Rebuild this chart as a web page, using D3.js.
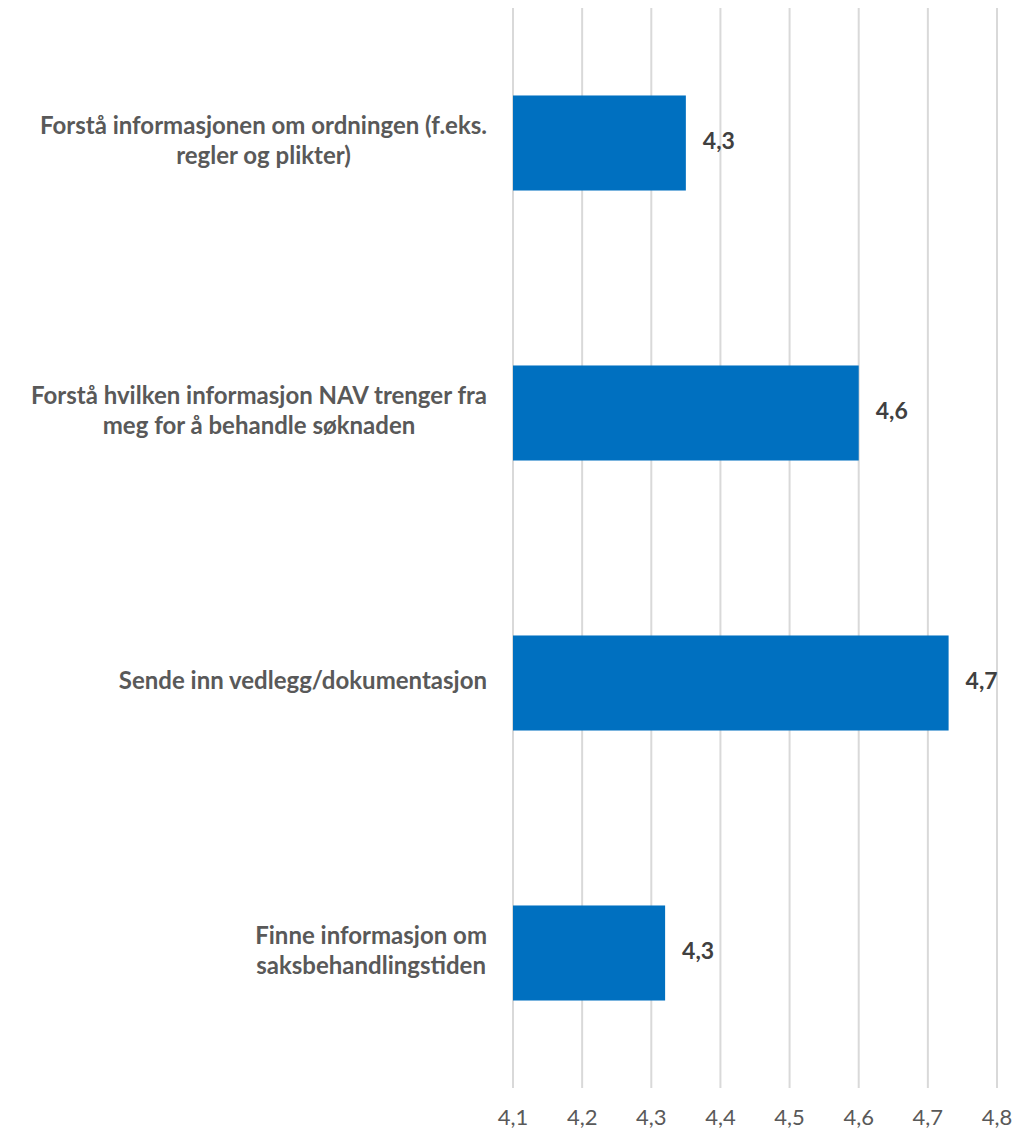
<!doctype html>
<html>
<head>
<meta charset="utf-8">
<title>Bar chart</title>
<script src="https://cdn.jsdelivr.net/npm/d3@7"></script>
<style>
	body { margin: 0; background: #fff; }
	svg text { font-family: Lato, "Open Sans", "Liberation Sans", sans-serif; }
</style>
</head>
<body>
<svg id="chart" width="1017" height="1133"></svg>
<script>
// categories, top to bottom (line breaks as in the original)
var categories = [
	"Forstå informasjonen om ordningen (f.eks.\nregler og plikter)",
	"Forstå hvilken informasjon NAV trenger fra\nmeg for å behandle søknaden",
	"Sende inn vedlegg/dokumentasjon",
	"Finne informasjon om\nsaksbehandlingstiden"
];
var values = [4.35, 4.60, 4.73, 4.32];
var valueLabels = ["4,3", "4,6", "4,7", "4,3"];
var ticks = [4.1, 4.2, 4.3, 4.4, 4.5, 4.6, 4.7, 4.8];

var svg = d3.select("#chart");

var x = d3.scaleLinear()
	.domain([4.1, 4.8])
	.range([513, 997]);

var y = d3.scaleBand()
	.domain(categories)
	.range([8, 1088])
	.paddingInner(0.648)
	.paddingOuter(0.324);

// gridlines
svg.append("g").selectAll("line")
	.data(ticks)
	.join("line")
	.attr("x1", function(d) { return x(d); })
	.attr("x2", function(d) { return x(d); })
	.attr("y1", 8)
	.attr("y2", 1088)
	.attr("stroke", "#d9d9d9")
	.attr("stroke-width", 2);

// tick labels
svg.append("g").selectAll("text")
	.data(ticks)
	.join("text")
	.attr("x", function(d) { return x(d); })
	.attr("y", 1119)
	.attr("text-anchor", "middle")
	.attr("dominant-baseline", "middle")
	.attr("fill", "#595959")
	.attr("font-size", 22)
	.text(function(d) { return d3.format(".1f")(d).replace(".", ","); });

// bars
svg.append("g").selectAll("rect")
	.data(values)
	.join("rect")
	.attr("x", x(4.1))
	.attr("y", function(d, i) { return y(categories[i]); })
	.attr("width", function(d) { return x(d) - x(4.1); })
	.attr("height", y.bandwidth())
	.attr("fill", "#0070c0");

// value labels
svg.append("g").selectAll("text")
	.data(values)
	.join("text")
	.attr("x", function(d) { return x(d) + 17; })
	.attr("y", function(d, i) { return y(categories[i]) + y.bandwidth() / 2; })
	.attr("dominant-baseline", "middle")
	.attr("fill", "#404040")
	.attr("font-size", 23)
	.attr("font-weight", "bold")
	.text(function(d, i) { return valueLabels[i]; });

// category labels: lines centred within a block that is right-aligned
var labelRight = 487, lineH = 30;
categories.forEach(function(c) {
	var lines = c.split("\n");
	var cy = y(c) + y.bandwidth() / 2;
	var g = svg.append("g");
	var texts = g.selectAll("text")
		.data(lines)
		.join("text")
		.attr("y", function(d, i) { return cy + (i - (lines.length - 1) / 2) * lineH; })
		.attr("text-anchor", "middle")
		.attr("dominant-baseline", "middle")
		.attr("fill", "#595959")
		.attr("font-size", 24)
		.attr("font-weight", "bold")
		.text(function(d) { return d; });
	var maxW = d3.max(texts.nodes(), function(n) { return n.getComputedTextLength(); });
	texts.attr("x", labelRight - maxW / 2);
});
</script>
</body>
</html>
